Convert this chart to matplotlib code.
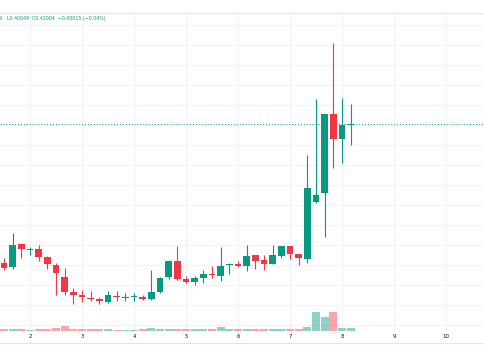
import numpy as np
import matplotlib.pyplot as plt
from matplotlib.lines import Line2D

# 4h candles, x in days (6 per day), price scale hidden like the cropped screenshot
t0 = 2 - 3 / 6.0
opens = [0.2817, 0.2783, 0.3007, 0.2955, 0.2957, 0.2883, 0.2800, 0.2677,
         0.2533, 0.2500, 0.2473, 0.2460, 0.2427, 0.2490, 0.2475, 0.2480,
         0.2483, 0.2460, 0.2530, 0.2680, 0.2840, 0.2657, 0.2633, 0.2673,
         0.2713, 0.2690, 0.2797, 0.2807, 0.2790, 0.2897, 0.2850, 0.2813,
         0.2893, 0.2987, 0.2907, 0.2860, 0.3433, 0.3525, 0.4310, 0.4057,
         0.41990]
highs = [0.2870, 0.3123, 0.3010, 0.2983, 0.3000, 0.2890, 0.2823, 0.2767,
         0.2567, 0.2550, 0.2543, 0.2480, 0.2543, 0.2543, 0.2517, 0.2517,
         0.2497, 0.2750, 0.2680, 0.2850, 0.2990, 0.2693, 0.2690, 0.2750,
         0.2793, 0.2983, 0.2820, 0.2843, 0.3000, 0.2900, 0.2900, 0.3000,
         0.2990, 0.2990, 0.2910, 0.3900, 0.4460, 0.4310, 0.5017, 0.4467,
         0.44109]
lows = [0.2750, 0.2760, 0.2870, 0.2900, 0.2840, 0.2757, 0.2500, 0.2500,
        0.2410, 0.2433, 0.2440, 0.2407, 0.2425, 0.2443, 0.2440, 0.2443,
        0.2450, 0.2450, 0.2525, 0.2657, 0.2650, 0.2617, 0.2600, 0.2617,
        0.2667, 0.2640, 0.2707, 0.2785, 0.2743, 0.2760, 0.2750, 0.2810,
        0.2870, 0.2857, 0.2803, 0.2817, 0.3420, 0.3083, 0.3767, 0.3823,
        0.40049]
closes = [0.2767, 0.3000, 0.2957, 0.2960, 0.2883, 0.2807, 0.2717, 0.2533,
          0.2500, 0.2477, 0.2457, 0.2437, 0.2497, 0.2477, 0.2477, 0.2483,
          0.2463, 0.2533, 0.2675, 0.2845, 0.2657, 0.2630, 0.2673, 0.2710,
          0.2697, 0.2793, 0.2810, 0.2787, 0.2890, 0.2843, 0.2813, 0.2903,
          0.2987, 0.2910, 0.2867, 0.3570, 0.3500, 0.4307, 0.4057, 0.4200,
          0.42004]
volumes = [1.8, 1.8, 1.6, 1.5, 1.6, 1.8, 3.3, 4.7, 2.3, 1.8, 1.6, 1.6, 1.8, 1.5,
           1.5, 1.5, 1.6, 3.3, 2.0, 1.8, 1.8, 1.6, 1.6, 1.6, 1.6, 3.7, 1.8, 1.6,
           2.3, 1.8, 1.6, 1.6, 1.8, 2.0, 2.0, 3.7, 18.7, 13.7, 18.7, 2.7, 2.7]
day_ticks = [2, 3, 4, 5, 6, 7, 8, 9, 10]
last_price = 0.42004

up = '#089981'
down = '#f23645'
grid = '#f0f3fa'

x = t0 + np.arange(len(opens)) / 6.0
o = np.array(opens); h = np.array(highs); l = np.array(lows); c = np.array(closes)
rising = c >= o
cols = np.where(rising, up, down)

fig = plt.figure(figsize=(4.85, 3.6), dpi=100)
ax = fig.add_axes([0, 29 / 360, 1, 318 / 360])
ax.set_xlim(2 - 30 / 52, 2 + 455 / 52)
ax.set_ylim(0.214, 0.532)

ax.set_yticks(np.arange(0.22, 0.53, 0.02))
ax.set_yticklabels([])
ax.set_xticks(day_ticks)
ax.set_xticklabels([str(d) for d in day_ticks])
ax.tick_params(axis='both', length=0)
ax.tick_params(axis='x', labelsize=4, labelcolor='#131722', pad=2.5)
ax.grid(True, color=grid, linewidth=0.8)
ax.set_axisbelow(True)
for s in ['left', 'right', 'bottom']:
    ax.spines[s].set_visible(False)
ax.spines['top'].set_color('#e0e3eb')
ax.spines['top'].set_linewidth(0.8)

# volume on its own scale at the bottom
vax = ax.twinx()
vax.set_ylim(0, 318)
vax.set_axis_off()
vax.bar(x, volumes, width=0.148, color=cols, alpha=0.45, linewidth=0)

# candles
ax.vlines(x, l, h, colors=cols, linewidth=0.8, zorder=3)
body_lo = np.minimum(o, c)
body_h = np.maximum(np.abs(c - o), 0.0009)
ax.bar(x, body_h, bottom=body_lo, width=0.128, color=cols, linewidth=0, zorder=4)

# last price line
ax.axhline(last_price + 0.0007, color=up, linewidth=0.7, linestyle=(0, (1, 2)), zorder=2)

# header legend (cut at the left edge)
fig.text(3 / 485, 1 - 18.5 / 360, 'H0.44109', ha='right', va='center',
         fontsize=3.4, color=up, clip_on=False)
fig.text(7 / 485, 1 - 18.5 / 360, 'L0.40049  C0.42004  \u22120.00015 (\u22120.04%)',
         ha='left', va='center', fontsize=3.4, color=up)

fig.add_artist(Line2D([0, 1], [1 - 343 / 360] * 2, color='#e0e3eb', linewidth=0.8))

plt.savefig('out.png', dpi=100)
